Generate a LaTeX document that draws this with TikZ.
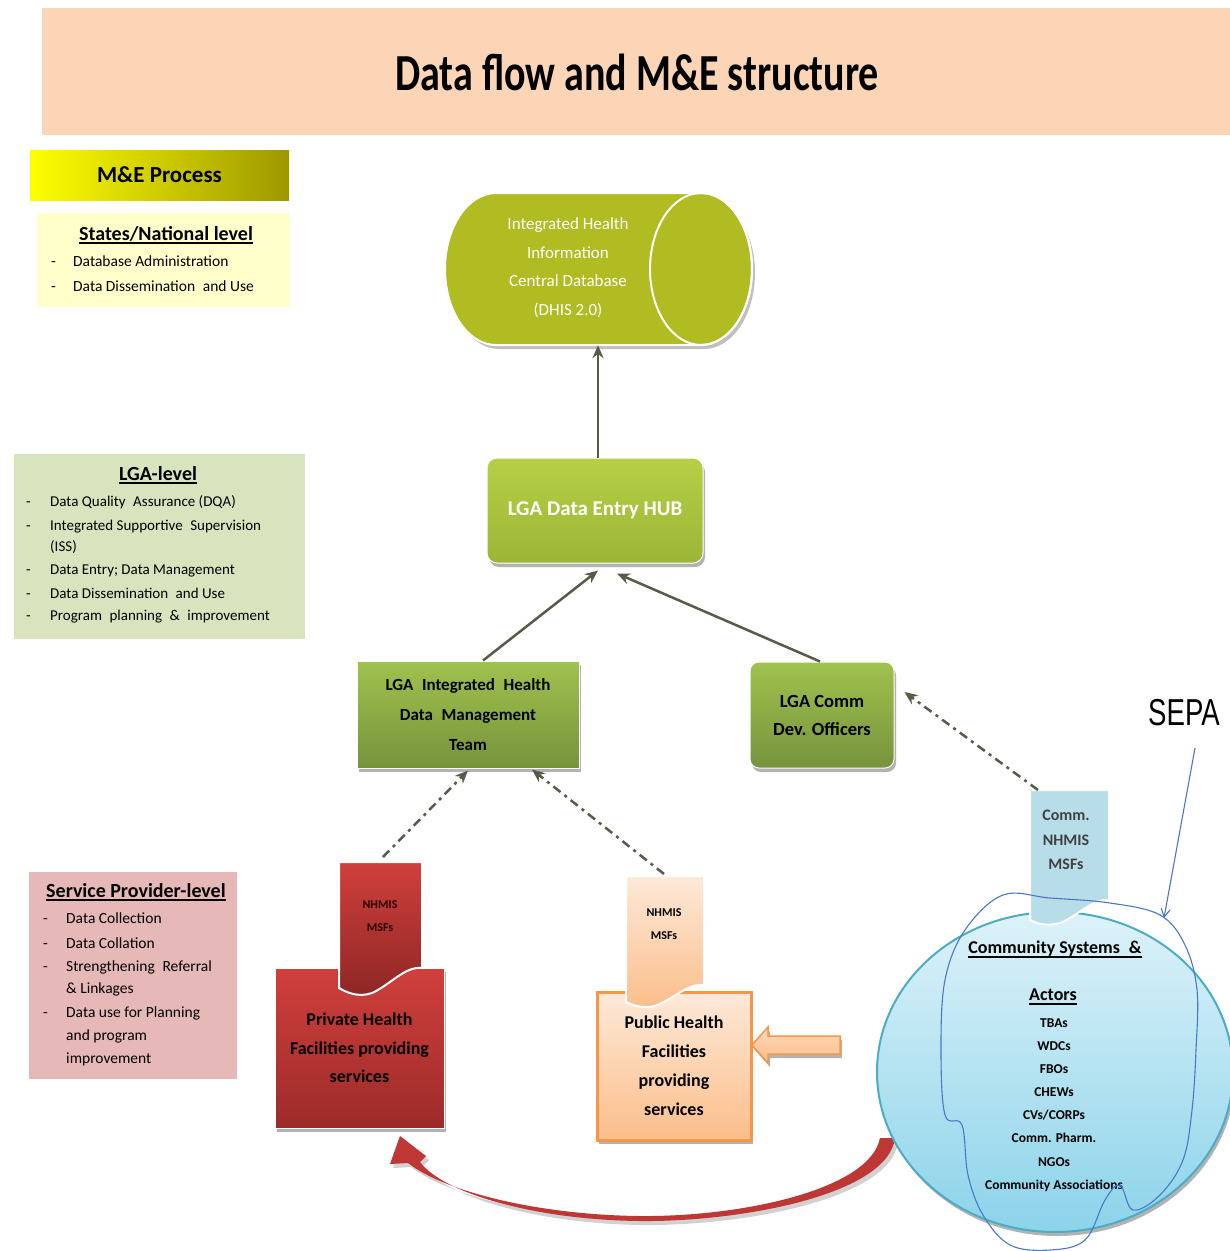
\documentclass[tikz,border=0pt]{standalone}
\usepackage{fontspec}
\setmainfont{Carlito}
\newfontfamily\arialf{Liberation Sans}
\usetikzlibrary{arrows.meta,shadows}
\definecolor{titlefill}{HTML}{FBD5B5}
\definecolor{yel}{HTML}{FFFF00}
\definecolor{olv}{HTML}{9E9800}
\definecolor{natfill}{HTML}{FFFFCC}
\definecolor{lgafill}{HTML}{D7E4BD}
\definecolor{svcfill}{HTML}{E6B9B8}
\definecolor{dbgreen}{HTML}{B0BC22}
\definecolor{hubtop}{HTML}{B6CF45}
\definecolor{hubbot}{HTML}{9BB637}
\definecolor{grtop}{HTML}{A0C24E}
\definecolor{grbot}{HTML}{76933C}
\definecolor{redtop}{HTML}{D03F3C}
\definecolor{redbot}{HTML}{9C2B29}
\definecolor{pubtop}{HTML}{FDE9D9}
\definecolor{pubbot}{HTML}{FBBE8A}
\definecolor{orng}{HTML}{F79646}
\definecolor{circtop}{HTML}{DDF2F9}
\definecolor{circbot}{HTML}{8CD3EA}
\definecolor{circline}{HTML}{4BACC6}
\definecolor{commtag}{HTML}{B7DDE8}
\definecolor{arrgrey}{HTML}{5A5A48}
\definecolor{scrib}{HTML}{4A78C6}
\definecolor{redarr}{HTML}{BE3735}
\begin{document}
\begin{tikzpicture}[x=1pt,y=1pt,
  shd/.style={drop shadow={shadow xshift=2pt,shadow yshift=-4pt,opacity=0.3,fill=black}},
  hd/.style={inner sep=0pt,font=\fontsize{20}{20}\selectfont\bfseries},
  litem/.style={inner sep=0pt,anchor=base west,font=\fontsize{15.5}{15.5}\selectfont},
  lgaitem/.style={litem,font=\fontsize{15}{15}\selectfont},
  boxtext/.style={align=center,font=\fontsize{17}{30}\selectfont\bfseries},
  solidarr/.style={draw=arrgrey,line width=2.5pt,-{Stealth[length=13pt,width=11pt]}},
  dasharr/.style={draw=arrgrey,line width=2.5pt,dash pattern=on 9pt off 5pt on 3pt off 5pt,-{Stealth[length=13pt,width=11pt]}},
  scribble/.style={draw=scrib,line width=1.1pt},
  tagtext/.style={align=center,font=\fontsize{12}{23}\selectfont\bfseries}
]
\useasboundingbox (0,0) rectangle (1230,-1251);
\fill[white] (0,0) rectangle (1230,-1251);

% title banner
\node[fill=titlefill,minimum width=1188pt,minimum height=127pt,inner sep=0pt] (banner) at (636,-71.5) {};
\node (title) at (637,-72) {\fontsize{40}{40}\selectfont\bfseries\scalebox{1}[1.3]{Data flow and M\&E structure}};

% M&E process label
\node[left color=yel,right color=olv,minimum width=259pt,minimum height=50pt,inner sep=0pt,
  font=\fontsize{23}{23}\selectfont\bfseries] (mep) at (159.5,-175) {M\&E Process};

% States / National level
\node[fill=natfill,minimum width=253pt,minimum height=94pt,inner sep=0pt] (natbox) at (163.5,-260) {};
\node[hd,anchor=base] (nath) at (166,-240) {States/National level};
\draw[line width=2pt] ([yshift=-3pt]nath.base west) -- ([yshift=-3pt]nath.base east);
\node[litem] (nat1) at (51,-266) {\makebox[22pt][l]{-}Database Administration};
\node[litem] (nat2) at (51,-291) {\makebox[22pt][l]{-}Data Dissemination\enspace and Use};

% LGA level
\node[fill=lgafill,minimum width=291pt,minimum height=185pt,inner sep=0pt] (lgabox) at (159.5,-546.5) {};
\node[hd,anchor=base] (lgah) at (158,-480) {LGA-level};
\draw[line width=2pt] ([yshift=-3pt]lgah.base west) -- ([yshift=-3pt]lgah.base east);
\node[lgaitem] (lga1) at (26,-506) {\makebox[24pt][l]{-}Data Quality\enspace Assurance (DQA)};
\node[lgaitem] (lga2) at (26,-530) {\makebox[24pt][l]{-}Integrated Supportive\enspace Supervision};
\node[lgaitem] (lga2b) at (50,-551) {(ISS)};
\node[lgaitem] (lga3) at (26,-574) {\makebox[24pt][l]{-}Data Entry; Data Management};
\node[lgaitem] (lga4) at (26,-598) {\makebox[24pt][l]{-}Data Dissemination\enspace and Use};
\node[lgaitem] (lga5) at (26,-620) {\makebox[24pt][l]{-}Program\enspace planning\enspace \&\enspace improvement};

% Service provider level
\node[fill=svcfill,minimum width=208pt,minimum height=207pt,inner sep=0pt] (svcbox) at (133,-975.5) {};
\node[hd,anchor=base] (svch) at (136,-897) {Service Provider-level};
\draw[line width=2pt] ([yshift=-3pt]svch.base west) -- ([yshift=-3pt]svch.base east);
\node[litem] (svc1) at (43,-923) {\makebox[23pt][l]{-}Data Collection};
\node[litem] (svc2) at (43,-948) {\makebox[23pt][l]{-}Data Collation};
\node[litem] (svc3) at (43,-971) {\makebox[23pt][l]{-}Strengthening\enspace Referral};
\node[litem] (svc3b) at (66,-993) {\& Linkages};
\node[litem] (svc4) at (43,-1017) {\makebox[23pt][l]{-}Data use for Planning};
\node[litem] (svc4b) at (66,-1040) {and program};
\node[litem] (svc4c) at (66,-1063) {improvement};

% Database cylinder
\fill[black,opacity=0.25] (499,-197) -- (704,-197) arc[start angle=90,end angle=-90,x radius=51,y radius=76] -- (499,-349) arc[start angle=270,end angle=90,x radius=51,y radius=76] -- cycle;
\path[fill=dbgreen,draw=white,line width=2pt] (496,-193) -- (701,-193) arc[start angle=90,end angle=-90,x radius=51,y radius=76] -- (496,-345) arc[start angle=270,end angle=90,x radius=51,y radius=76] -- cycle;
\draw[white,line width=2pt] (701,-269) ellipse[x radius=51,y radius=76];
\node[minimum width=307pt,minimum height=152pt,inner sep=0pt] (db) at (598,-269) {};
\node[align=center,text=white,font=\fontsize{17}{28.5}\selectfont] (dbt) at (568,-268) {Integrated Health\\Information\\Central Database\\(DHIS 2.0)};

% LGA Data Entry HUB
\node[shd,top color=hubtop,bottom color=hubbot,draw=white,line width=1pt,rounded corners=10pt,
  minimum width=216pt,minimum height=105pt,text=white,font=\fontsize{21}{21}\selectfont\bfseries] (hub) at (595,-510.5) {LGA Data Entry HUB};

% LGA Integrated Health Data Management Team
\node[shd,top color=grtop,bottom color=grbot,draw=white,line width=1pt,
  minimum width=222pt,minimum height=107pt,boxtext] (team) at (468,-714.5) {LGA\enspace Integrated\enspace Health\\Data\enspace Management\\Team};

% LGA Comm Dev Officers
\node[shd,top color=grtop,bottom color=grbot,draw=white,line width=1pt,rounded corners=9pt,
  minimum width=144pt,minimum height=106pt,align=center,font=\fontsize{18.5}{28}\selectfont\bfseries] (cdo) at (822,-715) {LGA Comm\\Dev. Officers};

% Red curved arrow (behind circle)
\fill[black,opacity=0.18] (883,-1142) -- (898,-1142) .. controls (891,-1199) and (743,-1226) .. (643,-1225) .. controls (543,-1224) and (448,-1199) .. (423,-1166) -- (429,-1160) -- (403,-1140) -- (393,-1168) -- (411,-1167) .. controls (448,-1196) and (543,-1219) .. (643,-1220) .. controls (743,-1221) and (873,-1194) .. (883,-1142) -- cycle;
\fill[redarr] (880,-1138) -- (895,-1138) .. controls (888,-1195) and (740,-1222) .. (640,-1221) .. controls (540,-1220) and (445,-1195) .. (420,-1162) -- (426,-1156) -- (400,-1136) -- (390,-1164) -- (408,-1163) .. controls (445,-1192) and (540,-1215) .. (640,-1216) .. controls (740,-1217) and (870,-1190) .. (880,-1138) -- cycle;

% Private health facilities
\node[shd,top color=redtop,bottom color=redbot,draw=white,line width=1pt,
  minimum width=169pt,minimum height=160pt,align=center,font=\fontsize{18}{28.5}\selectfont\bfseries] (priv) at (359.5,-1048) {Private Health\\Facilities providing\\services};
\path[top color=redtop,bottom color=redbot!90!black,draw=white,line width=2pt] (339,-862) -- (422,-862) -- (422,-968) .. controls (405,-966) and (390,-985) .. (372,-993) .. controls (358,-998) and (346,-992) .. (339,-988) -- cycle;
\node[tagtext,text=black!85!red] (privtag) at (380,-916.5) {NHMIS\\MSFs};
\coordinate (privtop) at (383,-857);

% Public health facilities
\node[shd,top color=pubtop,bottom color=pubbot,draw=orng,line width=3pt,
  minimum width=154pt,minimum height=148pt,align=center,font=\fontsize{18}{29}\selectfont\bfseries] (pub) at (674,-1066) {Public Health\\Facilities\\providing\\services};
\path[top color=pubtop,bottom color=pubbot,draw=white,line width=2pt] (626,-876) -- (704,-876) -- (704,-985) .. controls (688,-983) and (672,-1000) .. (655,-1006) .. controls (642,-1009) and (632,-1005) .. (626,-1002) -- cycle;
\node[tagtext] (pubtag) at (664,-924.5) {NHMIS\\MSFs};
\coordinate (pubtop) at (664,-874);

% Orange block arrow
\path[shd,top color=pubbot!60!white,bottom color=pubbot,draw=orng,line width=1.5pt] (840,-1036) -- (768,-1036) -- (768,-1027) -- (752,-1045) -- (768,-1063) -- (768,-1054) -- (840,-1054) -- cycle;

% Community circle
\path[shd,top color=circtop,bottom color=circbot,draw=circline,line width=2pt] (1055,-1072) ellipse[x radius=178,y radius=160];
\node[hd,font=\fontsize{18}{18}\selectfont\bfseries,anchor=base] (comh) at (1055,-953) {Community Systems\enspace \&};
\draw[line width=2pt] ([yshift=-4pt]comh.base west) -- ([yshift=-4pt]comh.base east);
\node[hd,font=\fontsize{18}{18}\selectfont\bfseries,anchor=base] (acth) at (1053,-1000) {Actors};
\draw[line width=2pt] ([yshift=-4pt]acth.base west) -- ([yshift=-4pt]acth.base east);
\node[align=center,font=\fontsize{13.5}{23.1}\selectfont\bfseries] (actors) at (1054,-1105) {TBAs\\WDCs\\FBOs\\CHEWs\\CVs/CORPs\\Comm. Pharm.\\NGOs\\Community Associations};

% Comm tag
\path[fill=commtag,draw=white,line width=2pt] (1030,-790) -- (1109,-790) -- (1109,-900) .. controls (1093,-898) and (1078,-916) .. (1060,-923) .. controls (1046,-927) and (1036,-923) .. (1030,-920) -- cycle;
\node[align=center,text=black!75,font=\fontsize{16}{24.5}\selectfont\bfseries] (commtagt) at (1066,-840) {Comm.\\NHMIS\\MSFs};
\coordinate (commtop) at (1038,-790);

% Arrows
\draw[solidarr] ([xshift=3pt]hub.north) -- (db.south);
\draw[solidarr] ([xshift=15pt]team.north) -- ([xshift=3pt,yshift=-7pt]hub.south);
\draw[solidarr] ([xshift=-2pt]cdo.north) -- ([xshift=22pt,yshift=-10pt]hub.south);
\draw[dasharr] (privtop) -- ([yshift=-2pt]team.south);
\draw[dasharr] (pubtop) -- ([xshift=64pt,yshift=-1pt]team.south);
\draw[dasharr] (commtop) -- ([xshift=10pt,yshift=23pt]cdo.east);

% SEPA annotation
\node[font=\arialf\fontsize{30}{30}\selectfont] (sepa) at (1184,-713) {\scalebox{0.92}[1.25]{SEPA}};
\coordinate (sepaend) at (1164,-918);
\draw[scribble,-{Straight Barb[length=8pt,width=9pt]}] (1195,-748) -- (sepaend);
\draw[scribble] plot[smooth cycle,tension=0.6] coordinates {(1003,-895) (1050,-898) (1110,-903) (1160,-915) (1185,-945) (1197,-990) (1196,-1050) (1192,-1110) (1183,-1160) (1160,-1195) (1133,-1210) (1120,-1185) (1105,-1200) (1085,-1240) (1050,-1250) (1010,-1245) (983,-1215) (968,-1175) (962,-1125) (945,-1115) (941,-1050) (945,-980) (965,-930)};
\end{tikzpicture}
\end{document}
